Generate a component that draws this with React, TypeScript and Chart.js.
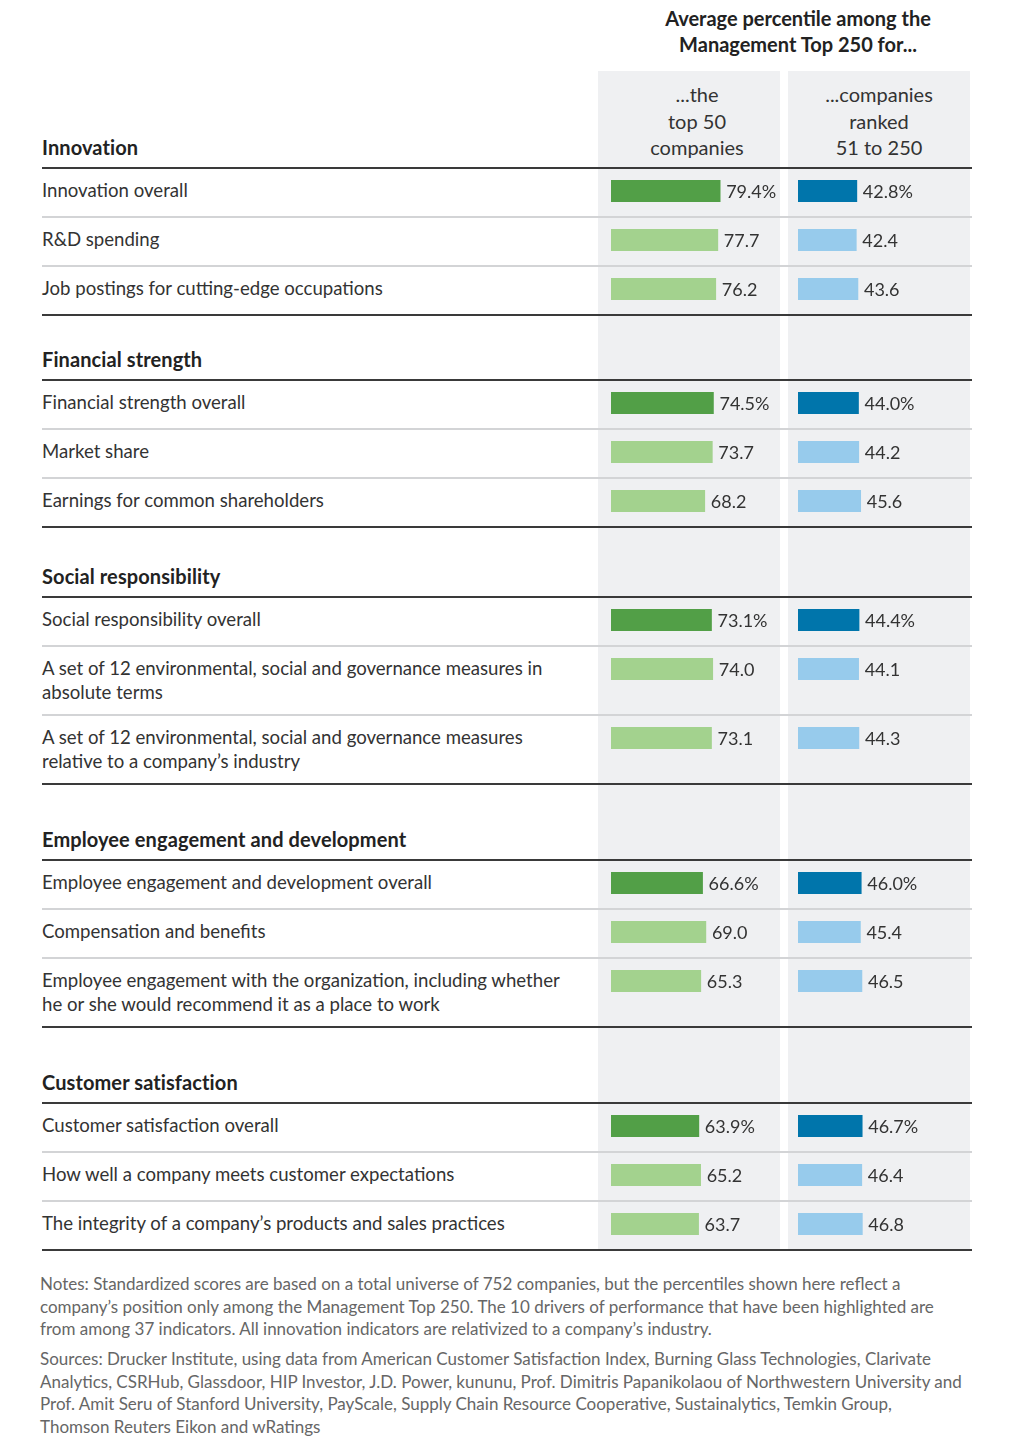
import React, { useEffect, useRef } from "react";
import { Chart, registerables } from "chart.js";
Chart.register(...registerables);

const SECTIONS = [
  "Innovation",
  "Financial strength",
  "Social responsibility",
  "Employee engagement and development",
  "Customer satisfaction",
];
const ROW_SECTION = [0, 0, 0, 1, 1, 1, 2, 2, 2, 3, 3, 3, 4, 4, 4];
const ROW_LABELS: string[][] = [
  ["Innovation overall"],
  ["R&D spending"],
  ["Job postings for cutting-edge occupations"],
  ["Financial strength overall"],
  ["Market share"],
  ["Earnings for common shareholders"],
  ["Social responsibility overall"],
  ["A set of 12 environmental, social and governance measures in", "absolute terms"],
  ["A set of 12 environmental, social and governance measures", "relative to a company\u2019s industry"],
  ["Employee engagement and development overall"],
  ["Compensation and benefits"],
  ["Employee engagement with the organization, including whether", "he or she would recommend it as a place to work"],
  ["Customer satisfaction overall"],
  ["How well a company meets customer expectations"],
  ["The integrity of a company\u2019s products and sales practices"],
];
const IS_OVERALL = [true, false, false, true, false, false, true, false, false, true, false, false, true, false, false];
const TOP50 = [79.4, 77.7, 76.2, 74.5, 73.7, 68.2, 73.1, 74.0, 73.1, 66.6, 69.0, 65.3, 63.9, 65.2, 63.7];
const RANKED = [42.8, 42.4, 43.6, 44.0, 44.2, 45.6, 44.4, 44.1, 44.3, 46.0, 45.4, 46.5, 46.7, 46.4, 46.8];

const TITLE_LINES = ["Average percentile among the", "Management Top 250 for..."];
const COL_HEADERS = [
  ["...the", "top 50", "companies"],
  ["...companies", "ranked", "51 to 250"],
];
const NOTES_LINES = [
  "Notes: Standardized scores are based on a total universe of 752 companies, but the percentiles shown here reflect a",
  "company\u2019s position only among the Management Top 250. The 10 drivers of performance that have been highlighted are",
  "from among 37 indicators. All innovation indicators are relativized to a company\u2019s industry.",
];
const SOURCES_LINES = [
  "Sources: Drucker Institute, using data from American Customer Satisfaction Index, Burning Glass Technologies, Clarivate",
  "Analytics, CSRHub, Glassdoor, HIP Investor, J.D. Power, kununu, Prof. Dimitris Papanikolaou of Northwestern University and",
  "Prof. Amit Seru of Stanford University, PayScale, Supply Chain Resource Cooperative, Sustainalytics, Temkin Group,",
  "Thomson Reuters Eikon and wRatings",
];

const FONT = "Lato, 'Noto Sans', sans-serif";
const GREEN_DARK = "#529f47";
const GREEN_LIGHT = "#a3d28e";
const BLUE_DARK = "#0075ab";
const BLUE_LIGHT = "#97cbec";

const COL_W = 182;
const COL1_X = 598;
const COL2_X = 788;

function BarCell({ value, color, suffix, padLeft }: { value: number; color: string; suffix: string; padLeft: number }) {
  const ref = useRef<HTMLCanvasElement>(null);
  useEffect(() => {
    if (!ref.current) return;
    const labelPlugin = {
      id: "valueLabel",
      afterDatasetsDraw(chart: any) {
        const ctx = chart.ctx;
        const meta = chart.getDatasetMeta(0);
        meta.data.forEach((el: any, i: number) => {
          const v = chart.data.datasets[0].data[i] as number;
          ctx.save();
          ctx.font = `18px ${FONT}`;
          ctx.fillStyle = "#333";
          ctx.textBaseline = "middle";
          ctx.textAlign = "left";
          ctx.fillText(v.toFixed(1) + suffix, el.x + 6, el.y + 1);
          ctx.restore();
        });
      },
    };
    const chart = new Chart(ref.current, {
      type: "bar",
      data: {
        labels: [""],
        datasets: [
          {
            data: [value],
            backgroundColor: color,
            borderWidth: 0,
            barPercentage: 1,
            categoryPercentage: 1,
          },
        ],
      },
      options: {
        indexAxis: "y",
        responsive: false,
        animation: false,
        devicePixelRatio: 1,
        layout: { padding: { left: padLeft, right: COL_W - padLeft - 137.5, top: 12, bottom: 12 } },
        scales: {
          x: { display: false, min: 0, max: 100 },
          y: { display: false },
        },
        plugins: { legend: { display: false }, tooltip: { enabled: false } },
      },
      plugins: [labelPlugin],
    } as any);
    return () => chart.destroy();
  }, [value, color, suffix, padLeft]);
  return <canvas ref={ref} width={COL_W} height={46} style={{ display: "block" }} />;
}

export default function App() {
  const headerGaps = [168, 65, 70, 76, 76];
  const items: React.ReactNode[] = [];
  let y = 0;
  let prevSection = -1;
  const lineAt = (yy: number, dark: boolean, key: string) => (
    <div
      key={key}
      style={{
        position: "absolute",
        left: 42,
        width: 930,
        top: yy - 1,
        height: 2,
        background: dark ? "#3a3a3a" : "#d3d4d6",
      }}
    />
  );
  ROW_LABELS.forEach((lines, i) => {
    const s = ROW_SECTION[i];
    if (s !== prevSection) {
      if (prevSection >= 0) items.push(lineAt(y, true, `end${prevSection}`));
      y += headerGaps[s];
      items.push(
        <div
          key={`sh${s}`}
          style={{
            position: "absolute",
            left: 42,
            top: y - 33,
            height: 24,
            lineHeight: "24px",
            fontSize: 20,
            letterSpacing: "0.1px",
            fontWeight: 700,
            color: "#222",
            whiteSpace: "nowrap",
          }}
        >
          {SECTIONS[s]}
        </div>
      );
      items.push(lineAt(y, true, `start${s}`));
      prevSection = s;
    } else {
      items.push(lineAt(y, false, `sep${i}`));
    }
    const h = lines.length > 1 ? 69 : 49;
    items.push(
      <div
        key={`lab${i}`}
        style={{
          position: "absolute",
          left: 42,
          top: y + 10,
          lineHeight: "24px",
          fontSize: 18.6,
          color: "#333",
          whiteSpace: "nowrap",
        }}
      >
        {lines.map((l, k) => (
          <div key={k}>{l}</div>
        ))}
      </div>
    );
    const suffix = IS_OVERALL[i] ? "%" : "";
    items.push(
      <div key={`c1${i}`} style={{ position: "absolute", left: COL1_X, top: y }}>
        <BarCell value={TOP50[i]} color={IS_OVERALL[i] ? GREEN_DARK : GREEN_LIGHT} suffix={suffix} padLeft={13} />
      </div>
    );
    items.push(
      <div key={`c2${i}`} style={{ position: "absolute", left: COL2_X, top: y }}>
        <BarCell value={RANKED[i]} color={IS_OVERALL[i] ? BLUE_DARK : BLUE_LIGHT} suffix={suffix} padLeft={10} />
      </div>
    );
    y += h;
  });
  items.push(lineAt(y, true, "endLast"));
  const tableBottom = y;

  return (
    <div
      style={{
        position: "absolute",
        left: 0,
        top: 0,
        width: 1016,
        height: 1454,
        background: "#fff",
        fontFamily: FONT,
        overflow: "hidden",
      }}
    >
      <div style={{ position: "absolute", left: COL1_X, top: 71, width: COL_W, height: tableBottom - 71, background: "#eff0f2" }} />
      <div style={{ position: "absolute", left: COL2_X, top: 71, width: COL_W, height: tableBottom - 71, background: "#eff0f2" }} />
      <div
        style={{
          position: "absolute",
          left: 598,
          width: 400,
          top: 5,
          textAlign: "center",
          fontSize: 20,
          fontWeight: 700,
          lineHeight: "26px",
          color: "#222",
        }}
      >
        {TITLE_LINES.map((l, k) => (
          <div key={k}>{l}</div>
        ))}
      </div>
      {COL_HEADERS.map((hl, c) => (
        <div
          key={`ch${c}`}
          style={{
            position: "absolute",
            left: (c === 0 ? 697 : 879) - 100,
            width: 200,
            top: 81,
            textAlign: "center",
            fontSize: 20,
            lineHeight: "26.5px",
            color: "#333",
          }}
        >
          {hl.map((l, k) => (
            <div key={k}>{l}</div>
          ))}
        </div>
      ))}
      {items}
      <div
        style={{
          position: "absolute",
          left: 40,
          top: 1273,
          fontSize: 17,
          lineHeight: "22.5px",
          color: "#666",
          whiteSpace: "nowrap",
        }}
      >
        {NOTES_LINES.map((l, k) => (
          <div key={k}>{l}</div>
        ))}
      </div>
      <div
        style={{
          position: "absolute",
          left: 40,
          top: 1348,
          fontSize: 17,
          lineHeight: "22.5px",
          color: "#666",
          whiteSpace: "nowrap",
        }}
      >
        {SOURCES_LINES.map((l, k) => (
          <div key={k}>{l}</div>
        ))}
      </div>
    </div>
  );
}
